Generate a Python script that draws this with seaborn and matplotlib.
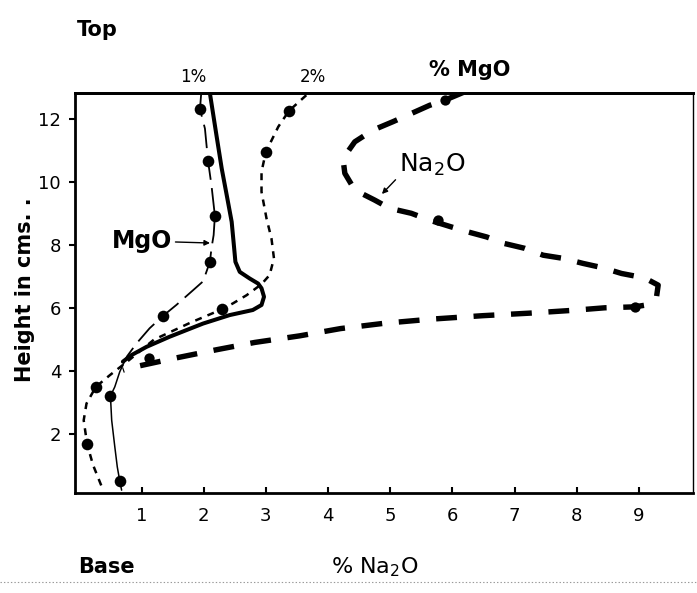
import matplotlib
matplotlib.use("Agg")
import matplotlib.pyplot as plt
import seaborn as sns
import pandas as pd

# ---------------- data (bottom-axis units) ----------------
# MgO curve: thin dashed upper part and thin solid lower continuation
mgo_line_x = [1.96, 1.94, 2.02, 2.07, 2.125, 2.18, 2.16, 2.125, 2.10, 1.99, 1.83, 1.56, 1.35,
              1.13, 0.92, 0.76]
mgo_line_y = [12.82, 12.32, 11.70, 10.67, 9.90, 8.93, 8.32, 7.90, 7.47, 6.85, 6.57, 6.10, 5.76,
              5.36, 4.88, 4.45]
mgo_low_x = [0.76, 0.65, 0.57, 0.50, 0.52, 0.57, 0.61, 0.65, 0.68]
mgo_low_y = [4.45, 3.98, 3.50, 3.21, 2.44, 1.60, 0.96, 0.51, 0.22]
mgo_dot_x = [1.94, 2.07, 2.18, 2.10, 1.35, 0.50, 0.65]
mgo_dot_y = [12.32, 10.67, 8.93, 7.47, 5.76, 3.21, 0.51]

# heavy solid curve (no dots)
solid_x = [2.10, 2.205, 2.29, 2.37, 2.45, 2.49, 2.51, 2.58, 2.74, 2.875, 2.93, 2.97, 2.93,
           2.79, 2.42, 1.99, 1.45, 1.08, 0.84, 0.70]
solid_y = [12.82, 11.49, 10.43, 9.59, 8.74, 7.90, 7.47, 7.15, 6.94, 6.78, 6.63, 6.36, 6.10,
           5.94, 5.78, 5.51, 5.09, 4.77, 4.51, 4.30]

# short-dashed curve with dots
sd_line_x = [3.65, 3.37, 3.20, 3.00, 2.93, 2.93, 3.01, 3.09, 3.13, 3.06, 2.93, 2.69, 2.47, 2.29,
             1.80, 1.20, 0.80, 0.49, 0.265, 0.115, 0.07, 0.125, 0.22, 0.36]
sd_line_y = [12.76, 12.26, 11.76, 10.96, 10.33, 9.69, 8.85, 8.21, 7.58, 7.05, 6.76, 6.41, 6.15, 5.96,
             5.55, 5.00, 4.35, 3.87, 3.50, 2.97, 2.44, 1.68, 1.02, 0.33]
sd_dot_x = [3.37, 3.00, 2.29, 0.265, 0.125]
sd_dot_y = [12.26, 10.96, 5.96, 3.50, 1.68]

# Na2O curve (heavy dashes)
na_line_x = [6.225, 5.876, 5.635, 5.34, 5.045, 4.72, 4.43, 4.24, 4.27, 4.43, 4.75, 4.99, 5.34,
             5.635, 5.98, 6.25, 6.55, 6.84, 7.16, 7.46, 7.78, 8.10, 8.42, 8.72, 9.09, 9.31,
             9.28, 9.12, 8.93, 8.45, 7.94, 7.24, 6.49, 5.66, 4.91, 4.20, 3.545, 2.82, 2.21,
             1.535, 0.81, 0.70]
na_line_y = [12.89, 12.60, 12.44, 12.18, 11.92, 11.65, 11.28, 10.75, 10.28, 9.75, 9.43, 9.17, 9.01,
             8.79, 8.58, 8.42, 8.26, 8.05, 7.90, 7.68, 7.58, 7.42, 7.28, 7.10, 6.96, 6.73,
             6.31, 6.10, 6.04, 6.01, 5.93, 5.84, 5.76, 5.65, 5.52, 5.35, 5.12, 4.91, 4.68,
             4.41, 4.10, 4.03]
na_dot_x = [5.876, 5.77, 8.93, 1.12]
na_dot_y = [12.60, 8.79, 6.04, 4.43]

x_ticks = [1, 2, 3, 4, 5, 6, 7, 8, 9]
y_ticks = [2, 4, 6, 8, 10, 12]
top_ticks = [1.825, 3.754]
top_labels = ["1%", "2%"]

# ---------------- figure ----------------
sns.set_style("ticks")
plt.rcParams['font.family'] = ['DejaVu Sans']
plt.rcParams.update({"text.color": "black", "axes.edgecolor": "black",
                     "xtick.color": "black", "ytick.color": "black",
                     "axes.labelcolor": "black", "lines.scale_dashes": False})

W, H = 697, 593
fig = plt.figure(figsize=(W / 100, H / 100), dpi=100)
ax = fig.add_axes([75 / W, 1 - 493 / H, (693 - 75) / W, (493 - 93) / H])

def P(x, y):
    return (x / W, 1 - y / H)

ink = "black"

def line(xs, ys, lw, dashes=None):
    df = pd.DataFrame({"x": xs, "y": ys})
    sns.lineplot(data=df, x="x", y="y", sort=False, estimator=None, ax=ax,
                 color=ink, lw=lw)
    ln = ax.lines[-1]
    ln.set_solid_capstyle("round")
    ln.set_solid_joinstyle("round")
    if dashes is not None:
        ln.set_linestyle((0, dashes))
        ln.set_dash_capstyle("butt")
        ln.set_dash_joinstyle("round")

# dash patterns in points (not scaled by width)
line(mgo_line_x, mgo_line_y, 1.3, (17, 6))
line(mgo_low_x, mgo_low_y, 1.1)
line(solid_x, solid_y, 2.9)
line(sd_line_x, sd_line_y, 1.8, (5, 4.5))
line(na_line_x, na_line_y, 3.9, (15, 12))

sns.scatterplot(x=mgo_dot_x, y=mgo_dot_y, ax=ax, color=ink, s=70, edgecolor=ink, linewidth=0, zorder=5)
sns.scatterplot(x=sd_dot_x, y=sd_dot_y, ax=ax, color=ink, s=70, edgecolor=ink, linewidth=0, zorder=5)
sns.scatterplot(x=na_dot_x, y=na_dot_y, ax=ax, color=ink, s=55, edgecolor=ink, linewidth=0, zorder=5)

ax.set_xlim(-0.07, 9.87)
ax.set_ylim(0.13, 12.83)
ax.set_xticks(x_ticks)
ax.set_xticklabels([str(v) for v in x_ticks])
ax.set_yticks(y_ticks)
ax.set_yticklabels([str(v) for v in y_ticks])
ax.set_xlabel("")
ax.set_ylabel("")
ax.tick_params(axis="x", direction="in", length=4, width=1.5, labelsize=13, pad=10)
ax.tick_params(axis="y", direction="out", length=4, width=1.5, labelsize=13, pad=6)
for s in ["left", "bottom", "top"]:
    ax.spines[s].set_visible(True)
    ax.spines[s].set_linewidth(2)
ax.spines["right"].set_visible(True)
ax.spines["right"].set_linewidth(1)

sec = ax.secondary_xaxis("top")
sec.set_xticks(top_ticks)
sec.set_xticklabels(top_labels)
sec.tick_params(length=0, labelsize=12, pad=5)
sec.spines["top"].set_linewidth(2)

# texts
fig.text(*P(77, 30), "Top", fontsize=15, fontweight="bold", va="center", ha="left")
fig.text(*P(78, 567), "Base", fontsize=15, fontweight="bold", va="center", ha="left")
fig.text(*P(375, 567), "% Na$_2$O", fontsize=16, va="center", ha="center")
fig.text(*P(470, 70), "% MgO", fontsize=15, fontweight="bold", va="center", ha="center")
fig.text(*P(25, 290), "Height in cms. .", fontsize=15, fontweight="bold", rotation=90,
         va="center", ha="center")

ax.annotate("MgO", xy=P(210, 243), xycoords="figure fraction",
            xytext=P(142, 241), textcoords="figure fraction",
            fontsize=17, fontweight="bold", va="center", ha="center",
            arrowprops=dict(arrowstyle="-|>", color=ink, lw=1, mutation_scale=8,
                            shrinkA=0, shrinkB=0))
ax.annotate("Na$_2$O", xy=P(380, 196), xycoords="figure fraction",
            xytext=P(432, 165), textcoords="figure fraction",
            fontsize=18, va="center", ha="center",
            arrowprops=dict(arrowstyle="-|>", color=ink, lw=1, mutation_scale=8,
                            shrinkA=0, shrinkB=2, relpos=(0.05, 0.2)))

# scan fold line at bottom
fig.add_artist(plt.Line2D([0, 1], [1 - 582 / H, 1 - 582 / H], transform=fig.transFigure,
                          color="0.6", lw=0.8, ls=(0, (1, 1.5))))

fig.savefig("out.png", dpi=100, facecolor="white")
